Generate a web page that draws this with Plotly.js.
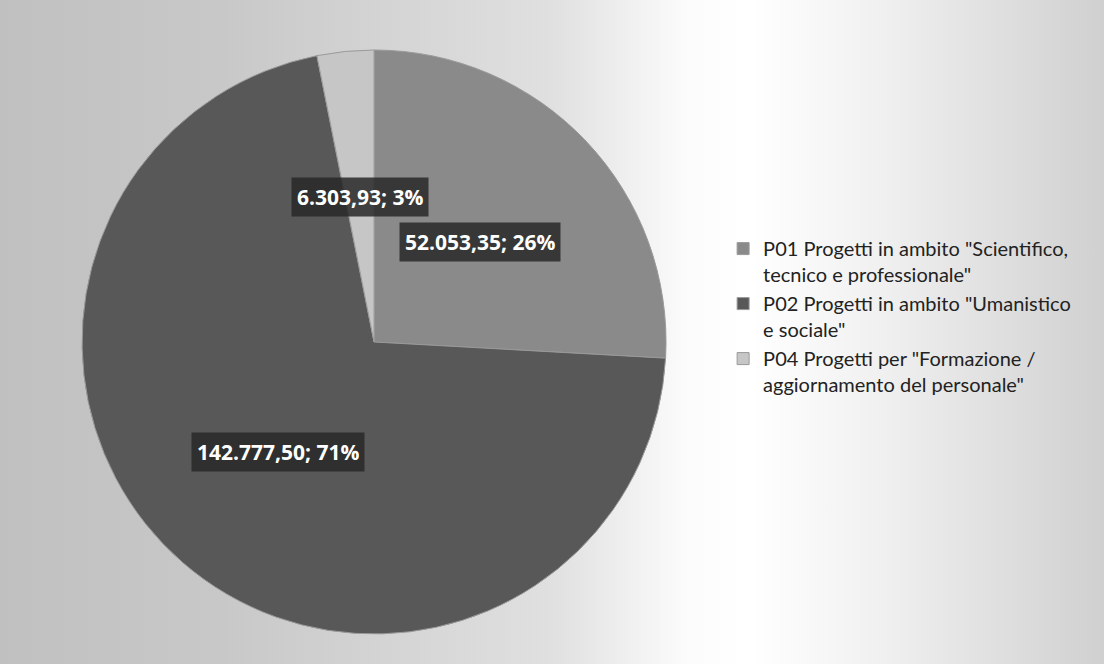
<!DOCTYPE html>
<html>
<head>
<meta charset="utf-8">
<script src="https://cdn.plot.ly/plotly-3.0.1.min.js"></script>
<style>
  html, body { margin: 0; padding: 0; }
  #wrap {
    width: 1104px; height: 664px;
    background: linear-gradient(to right, #c0c0c0 0%, #c8c8c8 20%, #e0e0e0 50%, #fbfbfb 62%, #ffffff 68%, #f0f0f0 80%, #d0d0d0 100%);
  }
</style>
</head>
<body>
<div id="wrap"><div id="chart"></div></div>
<script>
// ---- data ----
var categories = [
  'P01 Progetti in ambito "Scientifico,<br>tecnico e professionale"',
  'P02 Progetti in ambito "Umanistico<br>e sociale"',
  'P04 Progetti per "Formazione /<br>aggiornamento del personale"'
];
var values = [52053.35, 142777.50, 6303.93];
var sliceColors = ['#8a8a8a', '#585858', '#c6c6c6'];

// ---- helpers ----
function fmtIt(v) {
  var parts = v.toFixed(2).split('.');
  var intPart = parts[0].replace(/\B(?=(\d{3})+(?!\d))/g, '.');
  return intPart + ',' + parts[1];
}

var W = 1104, H = 664;
var domX = [0.0743, 0.6033];
var domY = [0.0452, 0.9247];

var total = values.reduce(function (a, b) { return a + b; }, 0);

// pie geometry derived from the domain
var cx = W * (domX[0] + domX[1]) / 2;
var cyFromBottom = H * (domY[0] + domY[1]) / 2;
var R = Math.min(W * (domX[1] - domX[0]), H * (domY[1] - domY[0])) / 2;

var annotations = [];
var cum = 0;
for (var i = 0; i < values.length; i++) {
  var frac = values[i] / total;
  var mid = (cum + frac / 2) * 2 * Math.PI; // clockwise from 12 o'clock
  cum += frac;
  var rr = 0.5 * R;
  var px = cx + rr * Math.sin(mid);
  var py = cyFromBottom + rr * Math.cos(mid);
  annotations.push({
    x: px / W, y: py / H, xref: 'paper', yref: 'paper',
    xanchor: 'center', yanchor: 'middle',
    showarrow: false,
    text: '<b>' + fmtIt(values[i]) + '; ' + Math.round(frac * 100) + '%</b>',
    font: { family: 'Open Sans, sans-serif', size: 21, color: '#ffffff' },
    bgcolor: 'rgba(40,40,40,0.85)',
    borderpad: 5
  });
}

var trace = {
  type: 'pie',
  labels: categories,
  values: values,
  sort: false,
  direction: 'clockwise',
  rotation: 0,
  textinfo: 'none',
  hoverinfo: 'label+value+percent',
  marker: { colors: sliceColors, line: { color: '#9a9a9a', width: 1 } },
  domain: { x: domX, y: domY }
};

var layout = {
  width: W, height: H,
  margin: { l: 0, r: 0, t: 0, b: 0 },
  paper_bgcolor: 'rgba(0,0,0,0)',
  plot_bgcolor: 'rgba(0,0,0,0)',
  separators: ',.',
  showlegend: true,
  legend: {
    x: 0.655, y: 0.655, xanchor: 'left', yanchor: 'top',
    valign: 'top',
    font: { family: 'Lato, Open Sans, sans-serif', size: 20, color: '#222' },
    bgcolor: 'rgba(0,0,0,0)',
    itemwidth: 30,
    tracegroupgap: 0
  },
  annotations: annotations
};

Plotly.newPlot('chart', [trace], layout, { displayModeBar: false, staticPlot: true });
</script>
</body>
</html>
